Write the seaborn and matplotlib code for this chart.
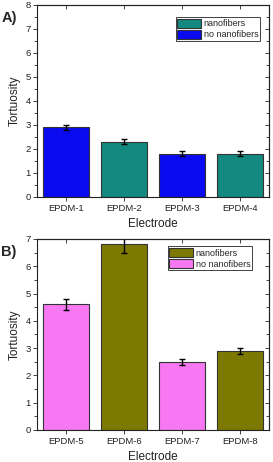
import matplotlib
matplotlib.use("Agg")
import matplotlib.pyplot as plt
import pandas as pd
import seaborn as sns
from matplotlib.ticker import MultipleLocator

electrodes_a = ["EPDM-1", "EPDM-2", "EPDM-3", "EPDM-4"]
tortuosity_a = [2.9, 2.3, 1.8, 1.8]
error_a = [0.1, 0.1, 0.1, 0.1]
type_a = ["no nanofibers", "nanofibers", "no nanofibers", "nanofibers"]

electrodes_b = ["EPDM-5", "EPDM-6", "EPDM-7", "EPDM-8"]
tortuosity_b = [4.6, 6.8, 2.5, 2.9]
error_b = [0.2, 0.3, 0.1, 0.1]
type_b = ["no nanofibers", "nanofibers", "no nanofibers", "nanofibers"]

hue_order = ["nanofibers", "no nanofibers"]
colors_a = {"nanofibers": "#13897f", "no nanofibers": "#0a0af0"}
colors_b = {"nanofibers": "#7d7900", "no nanofibers": "#f878f4"}

sns.set_style("ticks")
plt.rcParams["font.family"] = ["Liberation Sans", "DejaVu Sans"]

fig = plt.figure(figsize=(2.73, 4.62), dpi=100)
ax_a = fig.add_axes([0.1355, 0.5736, 0.850, 0.4156])
ax_b = fig.add_axes([0.1355, 0.0693, 0.850, 0.4134])


def draw_panel(ax, names, values, errors, kinds, palette, ymax, letter, legend_anchor):
    df = pd.DataFrame({"Electrode": names, "Tortuosity": values, "type": kinds})
    sns.barplot(data=df, x="Electrode", y="Tortuosity", hue="type", hue_order=hue_order,
                palette=palette, dodge=False, errorbar=None, width=0.8, saturation=1,
                edgecolor="#333333", linewidth=0.8, ax=ax)
    ax.errorbar(range(len(values)), values, yerr=errors, fmt="none", ecolor="black",
                elinewidth=1.0, capsize=2.2, capthick=1.0)
    ax.set_xlim(-0.5, len(values) - 0.5)
    ax.set_ylim(0, ymax)
    ax.yaxis.set_major_locator(MultipleLocator(1))
    ax.yaxis.set_minor_locator(MultipleLocator(0.5))
    ax.tick_params(axis="both", which="both", direction="out", labelsize=6.8,
                   colors="#222222", width=0.6)
    ax.tick_params(axis="y", which="major", length=3)
    ax.tick_params(axis="y", which="minor", length=2)
    ax.tick_params(axis="x", length=3, pad=2)
    ax.tick_params(axis="y", pad=1.5)
    # mirrored inward ticks on top and right
    top = ax.secondary_xaxis("top")
    top.set_xticks(range(len(values)))
    top.tick_params(direction="in", length=3, labeltop=False, width=0.6)
    right = ax.secondary_yaxis("right")
    right.yaxis.set_major_locator(MultipleLocator(1))
    right.yaxis.set_minor_locator(MultipleLocator(0.5))
    right.tick_params(which="major", direction="in", length=3, labelright=False, width=0.6)
    right.tick_params(which="minor", direction="in", length=2, width=0.6)
    for sp in ax.spines.values():
        sp.set_linewidth(0.8)
        sp.set_color("#222222")
    ax.set_xlabel("Electrode", fontsize=8.5, labelpad=4, color="#222222")
    ax.set_ylabel("Tortuosity", fontsize=8.5, labelpad=3, color="#222222")
    leg = ax.legend(loc="upper right", bbox_to_anchor=legend_anchor, fontsize=6.5,
                    frameon=True, fancybox=False, edgecolor="#222222", framealpha=1,
                    handlelength=2.6, handleheight=1.2, handletextpad=0.3,
                    borderpad=0.2, labelspacing=0.15, borderaxespad=0)
    leg.get_frame().set_linewidth(0.6)
    fig.text(0.005, ax.get_position().y1 - 0.012, letter, fontsize=10.5,
             fontweight="bold", va="top", ha="left")


draw_panel(ax_a, electrodes_a, tortuosity_a, error_a, type_a, colors_a, 8, "A)", (0.961, 0.9375))
draw_panel(ax_b, electrodes_b, tortuosity_b, error_b, type_b, colors_b, 7, "B)", (0.927, 0.963))

fig.savefig("out.png", dpi=100)
